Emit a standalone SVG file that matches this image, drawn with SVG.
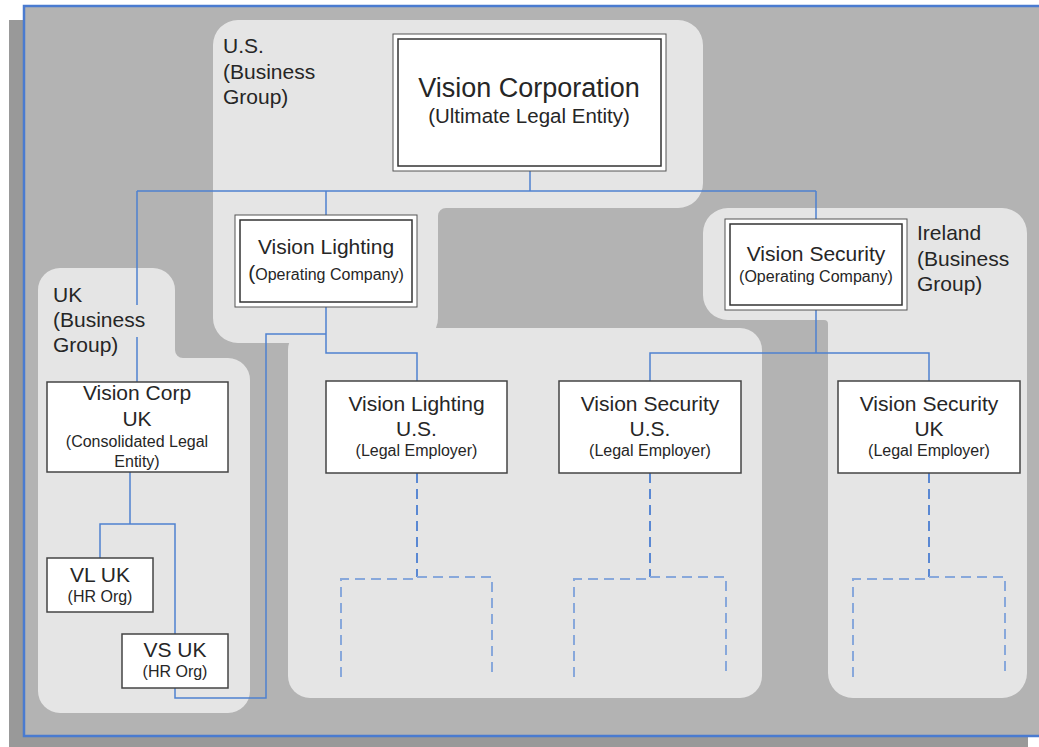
<svg xmlns="http://www.w3.org/2000/svg" width="1039" height="747" viewBox="0 0 1039 747">
<style>
text{font-family:"Liberation Sans",Arial,sans-serif;fill:#262626}
.t{font-size:21px;text-anchor:middle}
.s{font-size:16px;text-anchor:middle}
.lbl{font-size:21px}
.panel{fill:#e5e5e5}
.box{fill:#fff;stroke:#444;stroke-width:1.5}
.outer{fill:#fff;stroke:#555;stroke-width:1}
.inner{fill:none;stroke:#333;stroke-width:1.5}
.con{fill:none;stroke:#4f81d0;stroke-width:1.5}
.dm{fill:none;stroke:#5a88d3;stroke-width:2;stroke-dasharray:10 6}
.db{fill:none;stroke:#88a8db;stroke-width:2;stroke-dasharray:10 6}
</style>
<rect width="1039" height="747" fill="#fff"/>
<rect x="9" y="20" width="1019" height="740" fill="#999"/>
<rect x="24" y="6" width="1030" height="730" fill="#b3b3b3" stroke="#4a7bd0" stroke-width="2.5"/>
<g id="panels">
<path id="us-group" class="panel" d="M238 20 H678 A25 25 0 0 1 703 45 V183 A25 25 0 0 1 678 208 H446 A8 8 0 0 0 438 216 V318 A25 25 0 0 1 413 343 H238 A25 25 0 0 1 213 318 V45 A25 25 0 0 1 238 20 Z"/>
<rect id="employers-panel" class="panel" x="288" y="328" width="474" height="370" rx="22"/>
<path id="ireland-group" class="panel" d="M728 208 H1002 A25 25 0 0 1 1027 233 V673 A25 25 0 0 1 1002 698 H853 A25 25 0 0 1 828 673 V324 A4 4 0 0 0 824 320 H728 A25 25 0 0 1 703 295 V233 A25 25 0 0 1 728 208 Z"/>
<path id="uk-group" class="panel" d="M60 268 H153 A22 22 0 0 1 175 290 V350 A8 8 0 0 0 183 358 H228 A22 22 0 0 1 250 380 V691 A22 22 0 0 1 228 713 H60 A22 22 0 0 1 38 691 V290 A22 22 0 0 1 60 268 Z"/>
</g>
<g id="group-labels">
<text class="lbl" x="223" y="53">U.S.</text>
<text class="lbl" x="223" y="79">(Business</text>
<text class="lbl" x="223" y="104">Group)</text>
<text class="lbl" x="917" y="240">Ireland</text>
<text class="lbl" x="917" y="266">(Business</text>
<text class="lbl" x="917" y="291">Group)</text>
<text class="lbl" x="53" y="302">UK</text>
<text class="lbl" x="53" y="327">(Business</text>
<text class="lbl" x="53" y="352">Group)</text>
</g>
<g id="connectors">
<path class="con" d="M530 171 V191 M137 191 H816 M137 191 V305 M137 337 V382 M326 191 V215 M816 191 V219"/>
<path class="con" d="M326 307 V353 H417 V381 M326 334 H266 V698 H175 V688"/>
<path class="con" d="M816 310 V353 M650 381 V353 H929 V381"/>
<path class="con" d="M130 472 V524 M100 558 V524 H175 V634"/>
<path class="dm" d="M417 473 V577 M650 473 V577 M929 473 V577"/>
<path class="db" d="M341 677 V579 H417 M417 577 H492 V677 M574 677 V579 H650 M650 577 H726 V677 M853 677 V579 H929 M929 577 H1005 V677"/>
</g>
<g id="vision-corporation">
<rect class="outer" x="393" y="34" width="273" height="137"/>
<rect class="inner" x="398" y="39" width="263" height="127"/>
<text x="529" y="97" style="font-size:27px;text-anchor:middle">Vision Corporation</text>
<text x="529" y="123" style="font-size:20.5px;text-anchor:middle">(Ultimate Legal Entity)</text>
</g>
<g id="vision-lighting-op">
<rect class="outer" x="235" y="215" width="182" height="92"/>
<rect class="inner" x="240" y="220" width="172" height="82"/>
<text class="t" x="326" y="254">Vision Lighting</text>
<text class="s" x="326" y="280"><tspan style="font-size:21px">(</tspan>Operating Company)</text>
</g>
<g id="vision-security-op">
<rect class="outer" x="725" y="219" width="182" height="91"/>
<rect class="inner" x="730" y="224" width="172" height="81"/>
<text class="t" x="816" y="261">Vision Security</text>
<text class="s" x="816" y="282">(Operating Company)</text>
</g>
<g id="vision-corp-uk">
<rect class="box" x="47" y="382" width="181" height="90"/>
<text class="t" x="137" y="400">Vision Corp</text>
<text class="t" x="137" y="426">UK</text>
<text class="s" x="137" y="447">(Consolidated Legal</text>
<text class="s" x="137" y="467">Entity)</text>
</g>
<g id="vision-lighting-us">
<rect class="box" x="326" y="381" width="181" height="92"/>
<text class="t" x="416.5" y="411">Vision Lighting</text>
<text class="t" x="416.5" y="436">U.S.</text>
<text class="s" x="416.5" y="456">(Legal Employer)</text>
</g>
<g id="vision-security-us">
<rect class="box" x="559" y="381" width="182" height="92"/>
<text class="t" x="650" y="411">Vision Security</text>
<text class="t" x="650" y="436">U.S.</text>
<text class="s" x="650" y="456">(Legal Employer)</text>
</g>
<g id="vision-security-uk">
<rect class="box" x="838" y="381" width="182" height="92"/>
<text class="t" x="929" y="411">Vision Security</text>
<text class="t" x="929" y="436">UK</text>
<text class="s" x="929" y="456">(Legal Employer)</text>
</g>
<g id="vl-uk">
<rect class="box" x="47" y="558" width="106" height="54"/>
<text class="t" x="100" y="582">VL UK</text>
<text class="s" x="100" y="602">(HR Org)</text>
</g>
<g id="vs-uk">
<rect class="box" x="122" y="634" width="106" height="54"/>
<text class="t" x="175" y="657">VS UK</text>
<text class="s" x="175" y="677">(HR Org)</text>
</g>
</svg>
